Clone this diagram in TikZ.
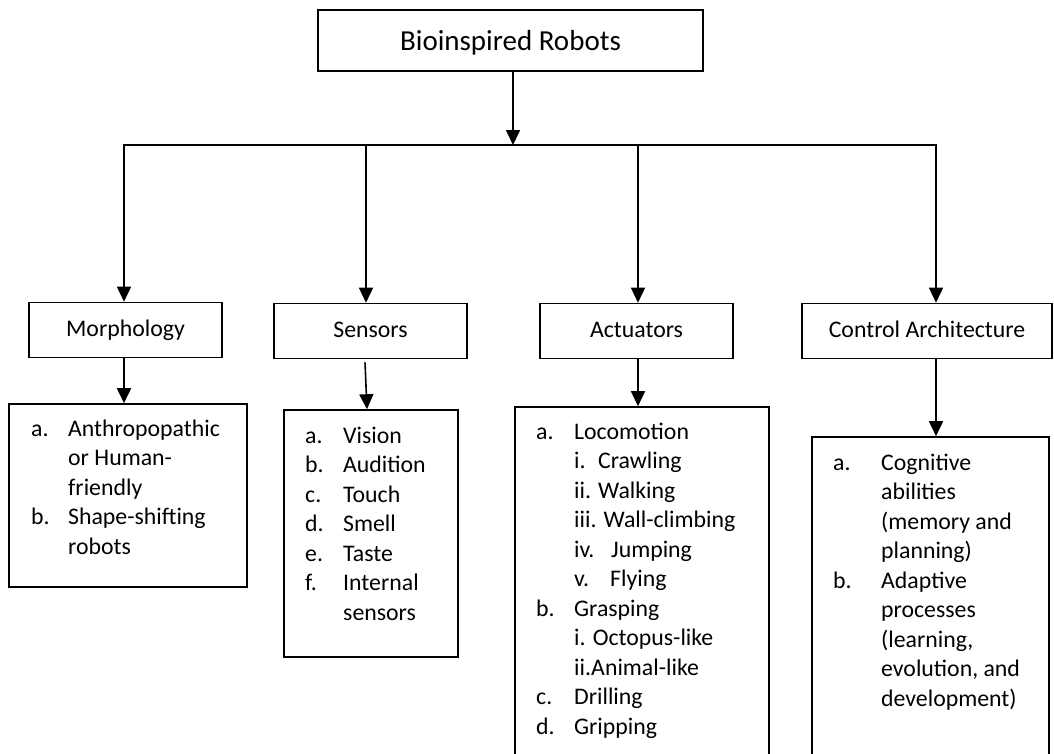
\documentclass[tikz,border=0pt]{standalone}
\usepackage{fontspec}
\setmainfont{Carlito}
\usetikzlibrary{arrows.meta}

% hanging-indent helpers for the lettered lists
\newlength\labw
\newcommand\myitem[2]{\makebox[\labw][l]{#1}#2}
\newcommand\mycont[1]{\hspace*{\labw}#1}
\newcommand\mysub[3]{\hspace*{\labw}\makebox[#1][l]{#2}#3}

\begin{document}
\begin{tikzpicture}[x=1pt,y=-1pt,
  >={Triangle[length=15pt,width=14pt]},
  box/.style={draw, rectangle, inner sep=0pt, line width=1.6pt},
  head/.style={box, font=\fontsize{23.8}{28}\selectfont,
    text height=17pt, text depth=5pt, minimum height=55pt},
  listbox/.style={box},
  listtext/.style={inner sep=0pt, anchor=base west,
    font=\fontsize{23.8}{29.5}\selectfont},
  link/.style={line width=1.6pt, ->},
  twoway/.style={line width=1.6pt, <->}
]
\useasboundingbox (0,0) rectangle (1054,753);
\fill[white] (0,0) rectangle (1054,753);
\clip (0,0) rectangle (1054,753);

% root
\node[box, minimum width=385pt, minimum height=61pt,
  font=\fontsize{29}{34}\selectfont, text height=21pt, text depth=2pt]
  (root) at (510.5,40.5) {Bioinspired Robots};

% category headers
\node[head, minimum width=193pt] (morph) at (125.5,330) {Morphology};
\node[head, minimum width=193pt] (sens)  at (370.5,331) {Sensors};
\node[head, minimum width=193pt] (act)   at (636.5,331) {Actuators};
\node[head, minimum width=250pt] (ctrl)  at (927,331)   {Control Architecture};

% list frames
\node[listbox, minimum width=238pt, minimum height=183pt] (morphlist) at (128,495.5) {};
\node[listbox, minimum width=174pt, minimum height=247pt] (senslist)  at (371,533.5) {};
\node[listbox, minimum width=254pt, minimum height=363pt] (actlist)   at (642,588.5) {};
\node[listbox, minimum width=237pt, minimum height=333pt] (ctrllist)  at (930.5,603.5) {};

% list contents
\node[listtext] (morphtext) at (31,436) {\setlength\labw{37pt}%
\begin{tabular}[t]{@{}l@{}}
\myitem{a.}{Anthropopathic}\\
\mycont{or Human-}\\
\mycont{friendly}\\
\myitem{b.}{Shape-shifting}\\
\mycont{robots}
\end{tabular}};

\node[listtext] (senstext) at (305,443) {\setlength\labw{38pt}%
\begin{tabular}[t]{@{}l@{}}
\myitem{a.}{Vision}\\
\myitem{b.}{Audition}\\
\myitem{c.}{Touch}\\
\myitem{d.}{Smell}\\
\myitem{e.}{Taste}\\
\myitem{f.}{Internal}\\
\mycont{sensors}
\end{tabular}};

\node[listtext] (acttext) at (536,439) {\setlength\labw{38pt}%
\begin{tabular}[t]{@{}l@{}}
\myitem{a.}{Locomotion}\\
\mysub{24pt}{i.}{Crawling}\\
\mysub{24pt}{ii.}{Walking}\\
\mycont{iii. Wall-climbing}\\
\mysub{37pt}{iv.}{Jumping}\\
\mysub{36pt}{v.}{Flying}\\
\myitem{b.}{Grasping}\\
\mycont{i. Octopus-like}\\
\mycont{ii.Animal-like}\\
\myitem{c.}{Drilling}\\
\myitem{d.}{Gripping}
\end{tabular}};

\node[listtext] (ctrltext) at (833,470) {\setlength\labw{48pt}%
\begin{tabular}[t]{@{}l@{}}
\myitem{a.}{Cognitive}\\
\mycont{abilities}\\
\mycont{(memory and}\\
\mycont{planning)}\\
\myitem{b.}{Adaptive}\\
\mycont{processes}\\
\mycont{(learning,}\\
\mycont{evolution, and}\\
\mycont{development)}
\end{tabular}};

% distribution bus
\coordinate (busL)  at (124,145);
\coordinate (busR)  at (936,145);
\coordinate (drop2) at (366,145);
\coordinate (drop3) at (638,145);
\coordinate (rootdrop) at (513,145);

\draw[link] (rootdrop |- root.south) -- (rootdrop);
\draw[twoway] (busL |- morph.north) -- (busL) -- (busR) -- (busR |- ctrl.north);
\draw[link] (drop2) -- (drop2 |- sens.north);
\draw[link] (drop3) -- (drop3 |- act.north);

% headers to their lists
\draw[link] (busL |- morph.south) -- (busL |- morphlist.north);
\draw[link] ([xshift=-1pt,yshift=-3pt]drop2 |- sens.south) -- ([xshift=1pt]drop2 |- senslist.north);
\draw[link] (drop3 |- act.south) -- (drop3 |- actlist.north);
\draw[link] (busR |- ctrl.south) -- (busR |- ctrllist.north);
\end{tikzpicture}
\end{document}
